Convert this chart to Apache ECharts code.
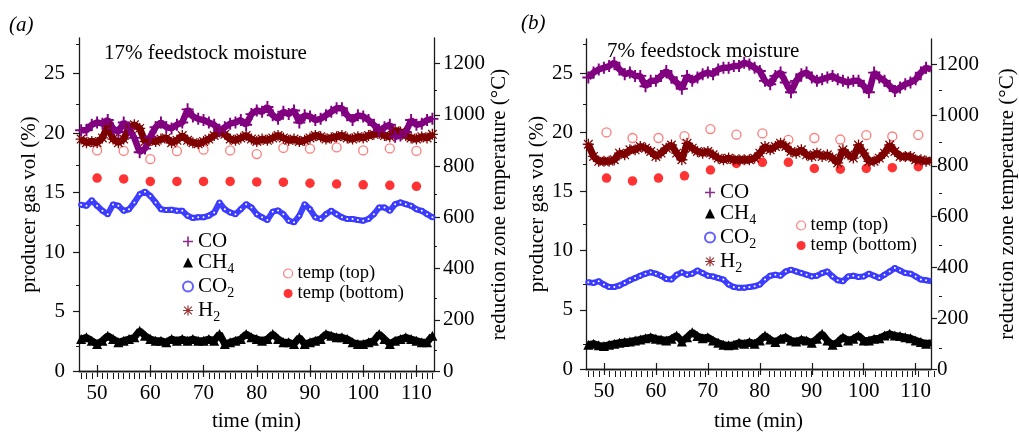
<!DOCTYPE html>
<html><head><meta charset="utf-8">
<script src="https://cdn.jsdelivr.net/npm/echarts@6/dist/echarts.min.js"></script>
<style>html,body{margin:0;padding:0;background:#fff}#c{width:1019px;height:437px}</style>
</head><body><div id="c"></div>
<script>
// ---------- data ----------
const timeMin = [47,48,49,50,51,52,53,54,55,56,57,58,59,60,61,62,63,64,65,66,67,68,69,70,71,72,73,74,75,76,77,78,79,80,81,82,83,84,85,86,87,88,89,90,91,92,93,94,95,96,97,98,99,100,101,102,103,104,105,106,107,108,109,110,111,112,113];

// panel (a): 17% feedstock moisture
const coA  = [20.25,20.25,20.7,20.9,20.8,21.1,20.4,20.1,20.9,20.4,19.6,18.4,18.7,19.7,20.5,20.9,20.5,20.4,20.7,20.9,22.0,21.4,21.2,21.1,20.9,20.7,20.2,20.5,20.8,20.9,21.1,20.7,21.6,21.9,21.8,22.2,21.5,21.2,21.8,21.6,21.9,20.9,21.5,21.4,21.1,21.2,21.5,21.8,22.1,22.1,21.5,21.1,21.5,21.4,21.1,20.7,20.2,20.5,20.7,19.7,19.8,20.1,21.1,20.7,20.8,21.1,21.2];
const h2A  = [19.5,19.2,19.3,19.2,19.6,20.6,19.5,19.2,19.5,20.5,20.7,20.4,19.3,19.4,19.3,19.5,19.6,19.2,19.4,19.8,19.4,19.2,19.1,19.3,19.5,19.8,20.1,19.9,19.5,19.4,19.6,19.8,19.5,19.3,19.5,19.4,19.6,19.8,19.6,19.4,19.5,19.3,19.4,19.6,19.8,19.7,19.5,19.6,19.7,19.8,19.6,19.5,19.7,19.6,19.8,19.9,20.0,19.8,19.7,20.2,20.1,19.8,19.6,19.5,19.7,19.6,19.9];
const co2A = [13.97,13.89,14.36,13.89,13.47,13.19,14.0,13.9,13.47,13.6,14.17,14.86,15.08,14.72,14.17,13.6,13.53,13.56,13.47,13.47,13.06,12.86,12.92,12.92,13.06,13.33,14.17,13.6,13.33,13.19,13.6,14.03,13.75,13.19,12.92,12.7,13.4,13.5,13.19,12.64,12.5,13.06,14.03,13.6,12.92,12.78,13.19,13.47,13.19,12.92,12.78,12.78,12.7,12.64,12.78,13.19,13.75,13.75,13.47,14.03,14.17,14.03,13.89,13.6,13.47,13.19,12.92];
const ch4A = [2.69,2.83,2.55,2.27,2.55,2.97,2.69,2.41,2.55,2.69,2.83,3.38,2.97,2.69,2.55,2.55,2.41,2.69,2.55,2.69,2.55,2.69,2.55,2.55,2.69,2.55,3.11,2.27,2.41,2.55,2.69,3.11,2.83,2.69,2.55,2.69,3.11,2.69,2.41,2.41,2.27,2.83,2.27,2.41,2.55,2.69,3.11,2.97,2.83,2.83,2.69,2.41,2.27,2.27,2.41,2.55,3.11,2.69,2.27,2.55,2.69,2.83,2.69,2.55,2.41,2.41,2.97];
const tempTimeA   = [50,55,60,65,70,75,80,85,90,95,100,105,110];
const tempTopA    = [861,859,827,858,864,861,847,871,868,873,861,869,859];
const tempBottomA = [753,750,740,740,740,740,738,737,733,730,727,725,721];

// panel (b): 7% feedstock moisture
const coB  = [24.64,25.06,25.33,25.47,25.61,25.89,25.33,24.92,25.06,24.78,24.78,23.9,24.36,24.36,24.78,25.19,24.64,24.22,23.7,24.78,24.36,24.64,24.92,25.06,24.92,25.33,25.47,25.47,25.61,25.61,25.89,25.75,25.47,25.19,24.36,24.08,24.78,25.06,24.22,23.4,24.36,24.92,25.06,24.64,24.36,24.5,24.64,24.78,24.5,24.36,24.22,24.36,24.36,23.94,23.4,25.06,24.64,24.36,23.94,23.5,23.81,24.08,24.22,24.5,25.06,25.47,25.33];
const h2B  = [19.0,17.97,17.56,17.56,17.56,17.69,18.25,18.11,18.53,18.53,18.81,18.67,18.39,17.97,18.25,18.67,18.94,18.25,17.69,19.08,18.67,18.39,18.25,18.39,18.11,17.83,17.69,17.83,17.69,17.69,17.69,17.69,17.83,18.25,18.81,18.53,18.81,19.08,18.81,18.39,18.25,18.53,18.11,17.97,18.25,17.97,18.11,17.83,17.42,18.53,18.11,17.83,18.94,18.25,17.56,17.56,17.83,18.25,18.94,18.39,17.97,17.97,17.97,17.69,17.69,17.56,17.69];
const co2B = [7.33,7.28,7.42,7.14,6.94,6.94,7.06,7.28,7.5,7.69,7.89,8.06,8.17,8.06,7.89,7.61,7.56,7.97,8.17,7.97,8.06,8.33,8.11,7.89,7.83,7.69,7.56,7.14,6.94,6.86,6.86,6.94,7.0,7.14,7.56,7.89,7.97,7.89,8.25,8.39,8.25,8.11,7.97,7.83,7.89,8.11,8.25,7.83,7.5,7.42,7.83,7.89,7.78,7.83,8.06,7.89,7.69,7.97,8.25,8.53,8.33,8.11,8.06,7.83,7.56,7.5,7.42];
const ch4B = [2.06,2.14,2.0,1.94,2.06,2.14,2.22,2.28,2.33,2.42,2.5,2.61,2.69,2.56,2.5,2.42,2.56,2.83,2.33,2.69,3.11,2.78,2.61,2.69,2.42,2.22,2.06,2.0,2.06,2.22,2.14,2.28,2.14,2.42,2.83,2.5,2.28,2.56,2.69,2.42,2.33,2.5,2.42,2.22,2.56,2.97,2.42,2.06,2.28,2.69,2.42,2.56,2.83,2.42,2.42,2.56,2.61,2.83,2.97,2.83,2.78,2.69,2.61,2.42,2.28,2.14,2.22];
const tempTimeB   = [50.5,55.5,60.5,65.5,70.5,75.5,80.5,85.5,90.5,95.5,100.5,105.5,110.5];
const tempTopB    = [932,910,910,917,945,923,928,903,910,904,921,916,922];
const tempBottomB = [752,741,752,761,784,810,814,814,790,787,790,793,797];

// tick values
const xMajorTicks = [50,60,70,80,90,100,110];
const xMinorTicks = [47,48,49,51,52,53,54,55,56,57,58,59,61,62,63,64,65,66,67,68,69,71,72,73,74,75,76,77,78,79,81,82,83,84,85,86,87,88,89,91,92,93,94,95,96,97,98,99,101,102,103,104,105,106,107,108,109,111,112,113];
const gasMajorTicks = [0,5,10,15,20,25];
const gasMinorTicks = [2.5,7.5,12.5,17.5,22.5,27.5];
const tempMajorTicks = [0,200,400,600,800,1000,1200];
const tempMinorTicks = [100,300,500,700,900,1100];

// ---------- chart ----------
const FONT = 'Liberation Serif';
const AX = '#1a1a1a';
const plusPath = 'path://M4.2,0H5.8V4.2H10V5.8H5.8V10H4.2V5.8H0V4.2H4.2Z';
const starPath = 'path://M4.4,0H5.6V4.4H10V5.6H5.6V10H4.4V5.6H0V4.4H4.4Z M1.5,0.7L5,4.2L8.5,0.7L9.3,1.5L5.8,5L9.3,8.5L8.5,9.3L5,5.8L1.5,9.3L0.7,8.5L4.2,5L0.7,1.5Z';

const pairs = (xs, ys) => xs.map((x, i) => [x, ys[i]]);
const txt = (size) => ({ color: '#000', fontFamily: FONT, fontSize: size });
const plain = (v) => String(v);

function xAxes(gMain, gMinor, min, max, nameGap, margin) {
  const base = { type: 'value', min, max, splitLine: { show: false } };
  return [
    Object.assign({}, base, { gridIndex: gMain, position: 'bottom',
      axisLine: { show: true, lineStyle: { color: AX, width: 1.3 } },
      axisTick: { show: true, length: 6, customValues: xMajorTicks, lineStyle: { color: AX, width: 1.2 } },
      axisLabel: Object.assign({ show: true, customValues: xMajorTicks, margin, formatter: plain }, txt(21)),
      name: 'time (min)', nameLocation: 'middle', nameGap, nameTextStyle: txt(21) }),
    Object.assign({}, base, { gridIndex: gMain, position: 'top',
      axisLine: { show: true, lineStyle: { color: AX, width: 1.3 } },
      axisTick: { show: true, length: 6, customValues: xMajorTicks, lineStyle: { color: AX, width: 1.2 } },
      axisLabel: { show: false } }),
    Object.assign({}, base, { gridIndex: gMinor, position: 'bottom',
      axisLine: { show: false },
      axisTick: { show: true, length: 3, customValues: xMinorTicks, lineStyle: { color: AX, width: 1 } },
      axisLabel: { show: false } }),
    Object.assign({}, base, { gridIndex: gMinor, position: 'top',
      axisLine: { show: false },
      axisTick: { show: true, length: 3, customValues: xMinorTicks, lineStyle: { color: AX, width: 1 } },
      axisLabel: { show: false } })
  ];
}

function yAxes(gMain, gMinor, gasMax, lGap, rGap, lMargin, rMargin) {
  return [
    { gridIndex: gMain, type: 'value', position: 'left', min: 0, max: gasMax, splitLine: { show: false },
      axisLine: { show: true, lineStyle: { color: AX, width: 1.3 } },
      axisTick: { show: true, length: 6, customValues: gasMajorTicks, lineStyle: { color: AX, width: 1.2 } },
      axisLabel: Object.assign({ show: true, customValues: gasMajorTicks, margin: lMargin, formatter: plain }, txt(21)),
      name: 'producer gas vol (%)', nameLocation: 'middle', nameGap: lGap, nameTextStyle: txt(21) },
    { gridIndex: gMain, type: 'value', position: 'right', min: 0, max: 1300, splitLine: { show: false },
      axisLine: { show: true, lineStyle: { color: AX, width: 1.3 } },
      axisTick: { show: true, length: 6, customValues: tempMajorTicks, lineStyle: { color: AX, width: 1.2 } },
      axisLabel: Object.assign({ show: true, customValues: tempMajorTicks, margin: rMargin, formatter: plain }, txt(21)),
      name: 'reduction zone temperature (°C)', nameLocation: 'middle', nameGap: rGap, nameTextStyle: txt(21) },
    { gridIndex: gMinor, type: 'value', position: 'left', min: 0, max: gasMax, splitLine: { show: false },
      axisLine: { show: false },
      axisTick: { show: true, length: 3, customValues: gasMinorTicks, lineStyle: { color: AX, width: 1 } },
      axisLabel: { show: false } },
    { gridIndex: gMinor, type: 'value', position: 'right', min: 0, max: 1300, splitLine: { show: false },
      axisLine: { show: false },
      axisTick: { show: true, length: 3, customValues: tempMinorTicks, lineStyle: { color: AX, width: 1 } },
      axisLabel: { show: false } }
  ];
}

function gasSeries(xi, yi, co, h2, co2, ch4) {
  const common = { type: 'line', xAxisIndex: xi, yAxisIndex: yi, showSymbol: true, showAllSymbol: true, silent: true, animation: false };
  return [
    Object.assign({}, common, { name: 'H2', data: pairs(timeMin, h2), symbol: starPath, symbolSize: 11,
      lineStyle: { color: '#7a0000', width: 7 }, itemStyle: { color: '#800000' } }),
    Object.assign({}, common, { name: 'CO', data: pairs(timeMin, co), symbol: plusPath, symbolSize: 12,
      lineStyle: { color: '#800080', width: 6.5 }, itemStyle: { color: '#800080' } }),
    Object.assign({}, common, { name: 'CO2', data: pairs(timeMin, co2), symbol: 'emptyCircle', symbolSize: 4,
      lineStyle: { color: '#4040ff', width: 6 }, itemStyle: { color: '#3a3aff', borderWidth: 1 } }),
    Object.assign({}, common, { name: 'CH4', data: pairs(timeMin, ch4), symbol: 'triangle', symbolSize: 10,
      lineStyle: { color: '#000', width: 7 }, itemStyle: { color: '#000' } })
  ];
}

function tempSeries(xi, yi, t, top, bottom) {
  return [
    { type: 'scatter', name: 'temp (top)', xAxisIndex: xi, yAxisIndex: yi, data: pairs(t, top), silent: true, animation: false,
      symbol: 'circle', symbolSize: 9, itemStyle: { color: '#fff', borderColor: '#ff5a5a', borderWidth: 1.3 } },
    { type: 'scatter', name: 'temp (bottom)', xAxisIndex: xi, yAxisIndex: yi, data: pairs(t, bottom), silent: true, animation: false,
      symbol: 'circle', symbolSize: 9.5, itemStyle: { color: '#ff0000' } }
  ];
}

const gasRich = {
  n: { fontFamily: FONT, fontSize: 21, color: '#000', lineHeight: 21, verticalAlign: 'top' },
  s: { fontFamily: FONT, fontSize: 14, color: '#000', lineHeight: 14, padding: [10, 0, 0, 0], verticalAlign: 'top' }
};
const gasFmt = { 'CO': '{n|CO}', 'CH4': '{n|CH}{s|4}', 'CO2': '{n|CO}{s|2}', 'H2': '{n|H}{s|2}' };
function gasLegend(left, top) {
  return { left, top, orient: 'vertical', padding: 0, itemGap: 0, itemWidth: 10, itemHeight: 10, selectedMode: false,
    formatter: (n) => gasFmt[n], textStyle: { rich: gasRich },
    data: [
      { name: 'CO', icon: plusPath, itemStyle: { color: '#8a2a8a' } },
      { name: 'CH4', icon: 'triangle', itemStyle: { color: '#000' } },
      { name: 'CO2', icon: 'emptyCircle', itemStyle: { color: '#6060ff', borderColor: '#6060ff', borderWidth: 1 } },
      { name: 'H2', icon: starPath, itemStyle: { color: '#9a3030' } }
    ] };
}
function tempLegend(left, top) {
  return { left, top, orient: 'vertical', padding: 0, itemGap: 1, itemWidth: 9, itemHeight: 9, selectedMode: false,
    textStyle: { fontFamily: FONT, fontSize: 18.5, color: '#000', lineHeight: 19 },
    data: [
      { name: 'temp (top)', icon: 'circle', itemStyle: { color: '#fff', borderColor: '#ff5a5a', borderWidth: 1.2 } },
      { name: 'temp (bottom)', icon: 'circle', itemStyle: { color: '#ff0000' } }
    ] };
}

const titleStyle = { fontFamily: FONT, fontSize: 21, fontWeight: 'normal', color: '#000' };
const option = {
  backgroundColor: '#fff',
  animation: false,
  textStyle: { fontFamily: FONT },
  title: [
    { text: '(a)', left: 9, top: 15, padding: 0, textStyle: Object.assign({}, titleStyle, { fontStyle: 'italic' }) },
    { text: '(b)', left: 521, top: 13, padding: 0, textStyle: Object.assign({}, titleStyle, { fontStyle: 'italic' }) },
    { text: '17% feedstock moisture', left: 104, top: 43, padding: 0, textStyle: titleStyle },
    { text: '7% feedstock moisture', left: 607, top: 41, padding: 0, textStyle: titleStyle }
  ],
  grid: [
    { left: 79, top: 38, width: 355, height: 338 },
    { left: 79, top: 38, width: 355, height: 338 },
    { left: 586, top: 39, width: 353, height: 335 },
    { left: 586, top: 39, width: 353, height: 335 }
  ],
  legend: [ gasLegend(182, 231), tempLegend(283, 264), gasLegend(704, 182), tempLegend(796, 216) ],
  xAxis: [].concat(xAxes(0, 1, 46.6, 113.3, 40, 12), xAxes(2, 3, 46.55, 112.95, 42, 12)),
  yAxis: [].concat(yAxes(0, 1, 28, 38, 53, 14, 9), yAxes(2, 3, 27.9, 37, 66, 13, 6)),
  series: [].concat(
    gasSeries(0, 0, coA, h2A, co2A, ch4A),
    tempSeries(0, 1, tempTimeA, tempTopA, tempBottomA),
    gasSeries(4, 4, coB, h2B, co2B, ch4B),
    tempSeries(4, 5, tempTimeB, tempTopB, tempBottomB)
  )
};
const chart = echarts.init(document.getElementById('c'), null, { renderer: 'canvas' });
chart.setOption(option);
</script>
</body></html>
